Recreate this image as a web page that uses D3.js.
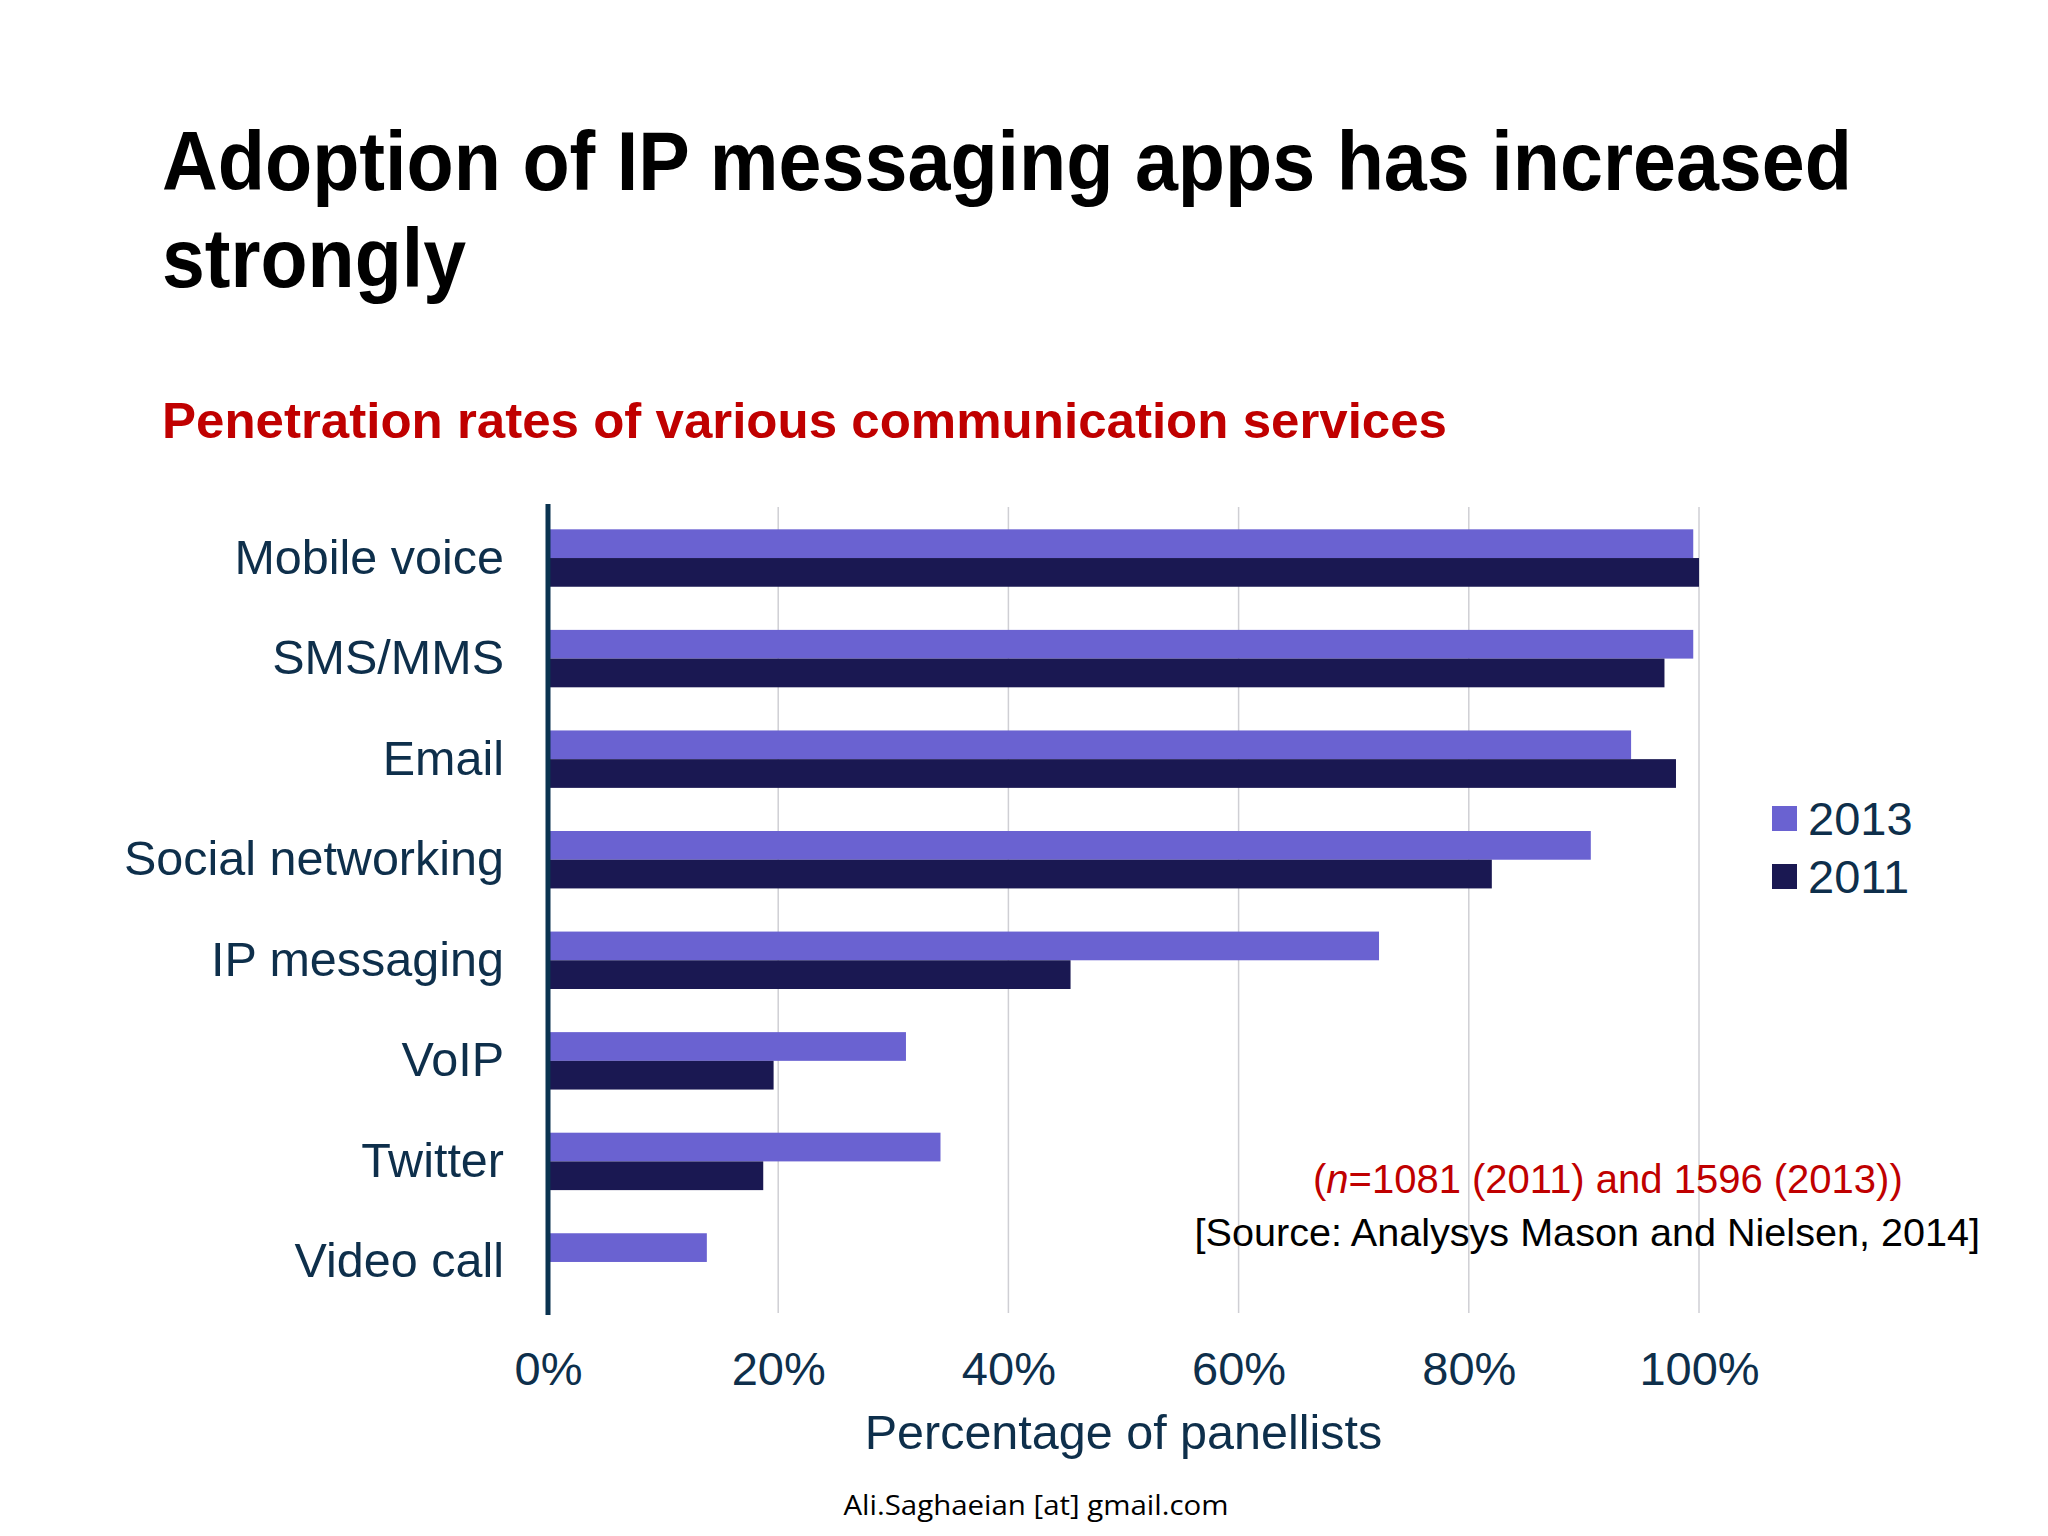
<!DOCTYPE html>
<html>
<head>
<meta charset="utf-8">
<script src="https://cdn.jsdelivr.net/npm/d3@7"></script>
<style>
  html, body { margin: 0; padding: 0; background: #ffffff; }
  svg { display: block; }
</style>
</head>
<body>
<script>
// ---- Data ----
const categories = ["Mobile voice", "SMS/MMS", "Email", "Social networking", "IP messaging", "VoIP", "Twitter", "Video call"];
const seriesNames = ["2013", "2011"];
const values2013 = [0.995, 0.995, 0.941, 0.906, 0.722, 0.311, 0.341, 0.138];
const values2011 = [1.000, 0.970, 0.980, 0.820, 0.454, 0.196, 0.187, 0];
const tickValues = [0, 0.2, 0.4, 0.6, 0.8, 1.0];
const titleLines = ["Adoption of IP messaging apps has increased", "strongly"];
const subtitle = "Penetration rates of various communication services";
const xAxisTitle = "Percentage of panellists";
const footer = "Ali.Saghaeian [at] gmail.com";

const colors = { "2013": "#6a62d1", "2011": "#1a1852" };
const textColor = "#0e2f4b";

const W = 2048, H = 1536;
const svg = d3.select("body").append("svg").attr("width", W).attr("height", H);
svg.append("rect").attr("width", W).attr("height", H).attr("fill", "#ffffff");

// Titles
svg.append("text").attr("x", 162).attr("y", 190)
  .attr("font-family", "'Liberation Sans', Arial, sans-serif").attr("font-weight", 700)
  .attr("font-size", 84).attr("fill", "#000")
  .attr("textLength", 1690).attr("lengthAdjust", "spacingAndGlyphs")
  .text(titleLines[0]);
svg.append("text").attr("x", 162).attr("y", 287)
  .attr("font-family", "'Liberation Sans', Arial, sans-serif").attr("font-weight", 700)
  .attr("font-size", 84).attr("fill", "#000")
  .attr("textLength", 304).attr("lengthAdjust", "spacingAndGlyphs")
  .text(titleLines[1]);
svg.append("text").attr("x", 162).attr("y", 438)
  .attr("font-family", "'Liberation Sans', Arial, sans-serif").attr("font-weight", 700)
  .attr("font-size", 50).attr("fill", "#c00000")
  .attr("textLength", 1285).attr("lengthAdjust", "spacingAndGlyphs")
  .text(subtitle);

// Scales
const plotTop = 507, plotBottom = 1313;
const x = d3.scaleLinear().domain([0, 1]).range([548, 1699]);
const y = d3.scaleBand().domain(categories).range([plotTop, plotBottom])
  .paddingInner(0.429).paddingOuter(0.222);
const ySub = d3.scaleBand().domain(seriesNames).range([0, y.bandwidth()]);

// Gridlines
svg.append("g").selectAll("line").data(tickValues.slice(1)).join("line")
  .attr("x1", d => x(d)).attr("x2", d => x(d))
  .attr("y1", plotTop).attr("y2", plotBottom)
  .attr("stroke", "#cfcfd4").attr("stroke-width", 1.5);

// Bars
const rows = categories.map((c, i) => ({ cat: c, vals: [
  { key: "2013", v: values2013[i] }, { key: "2011", v: values2011[i] } ] }));
const g = svg.append("g").selectAll("g").data(rows).join("g")
  .attr("transform", d => `translate(0,${y(d.cat)})`);
g.selectAll("rect").data(d => d.vals.filter(v => v.v > 0)).join("rect")
  .attr("x", x(0)).attr("y", d => ySub(d.key))
  .attr("width", d => x(d.v) - x(0)).attr("height", ySub.bandwidth())
  .attr("fill", d => colors[d.key]);

// Y axis (category labels)
const yAxis = svg.append("g").attr("transform", `translate(${x(0)},0)`)
  .call(d3.axisLeft(y).tickSize(0).tickPadding(44));
yAxis.select(".domain").remove();
yAxis.selectAll("text").attr("font-family", "'Liberation Sans', Arial, sans-serif")
  .attr("font-size", 48.5).attr("fill", textColor);
svg.append("line").attr("x1", x(0)).attr("x2", x(0))
  .attr("y1", plotTop - 3).attr("y2", plotBottom + 2)
  .attr("stroke", "#0a3350").attr("stroke-width", 5);

// X axis
const xAxis = svg.append("g").attr("transform", `translate(0,${plotBottom})`)
  .call(d3.axisBottom(x).tickValues(tickValues).tickFormat(d3.format(".0%")).tickSize(0).tickPadding(39));
xAxis.select(".domain").remove();
xAxis.selectAll("text").attr("font-family", "'Liberation Sans', Arial, sans-serif")
  .attr("font-size", 47).attr("fill", textColor);

svg.append("text").attr("x", (x(0) + x(1)) / 2).attr("y", 1449)
  .attr("text-anchor", "middle")
  .attr("font-family", "'Liberation Sans', Arial, sans-serif")
  .attr("font-size", 48.5).attr("fill", textColor).text(xAxisTitle);

// Legend
const leg = svg.append("g").selectAll("g").data(seriesNames).join("g")
  .attr("transform", (d, i) => `translate(1772,${806 + i * 58})`);
leg.append("rect").attr("width", 25).attr("height", 25).attr("fill", d => colors[d]);
leg.append("text").attr("x", 36).attr("y", 29)
  .attr("font-family", "'Liberation Sans', Arial, sans-serif")
  .attr("font-size", 47).attr("fill", textColor).text(d => d);

// Notes
const note = svg.append("text").attr("x", 1313).attr("y", 1193)
  .attr("font-family", "'Liberation Sans', Arial, sans-serif")
  .attr("font-size", 40).attr("fill", "#c00000");
note.append("tspan").text("(");
note.append("tspan").attr("font-style", "italic").text("n");
note.append("tspan").text("=1081 (2011) and 1596 (2013))");
svg.append("text").attr("x", 1980).attr("y", 1246).attr("text-anchor", "end")
  .attr("font-family", "'Liberation Sans', Arial, sans-serif")
  .attr("font-size", 39.6).attr("fill", "#000")
  .text("[Source: Analysys Mason and Nielsen, 2014]");

// Footer
svg.append("text").attr("x", 1036).attr("y", 1515).attr("text-anchor", "middle")
  .attr("font-family", "'Open Sans', sans-serif")
  .attr("font-size", 27).attr("fill", "#000")
  .attr("textLength", 385).attr("lengthAdjust", "spacingAndGlyphs")
  .text(footer);
</script>
</body>
</html>
